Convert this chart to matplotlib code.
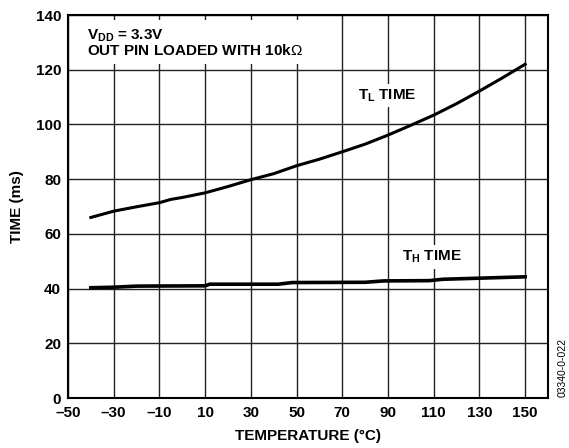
import matplotlib
matplotlib.use("Agg")
import matplotlib.pyplot as plt

plt.rcParams['font.family'] = ['Liberation Sans', 'DejaVu Sans']
plt.rcParams['mathtext.fontset'] = 'custom'
plt.rcParams['mathtext.rm'] = 'Liberation Sans'
plt.rcParams['mathtext.bf'] = 'Liberation Sans:bold'
plt.rcParams['mathtext.it'] = 'Liberation Sans:italic'

# Data
tl_temp = [-40, -30, -20, -10, -5, 0, 10, 20, 30, 40, 50, 60, 70, 80, 90, 100, 110, 120, 130, 140, 150]
tl_time = [66.0, 68.3, 69.9, 71.4, 72.6, 73.3, 75.0, 77.3, 79.8, 82.0, 84.9, 87.3, 90.0, 92.8, 96.1, 99.7, 103.4, 107.6, 112.2, 117.0, 122.0]

th_temp = [-40, -30, -20, 10, 12, 42, 48, 80, 88, 108, 114, 150]
th_time = [40.3, 40.5, 40.9, 41.0, 41.6, 41.6, 42.2, 42.3, 42.8, 42.9, 43.4, 44.3]

x_ticks = [-50, -30, -10, 10, 30, 50, 70, 90, 110, 130, 150]
y_ticks = [0, 20, 40, 60, 80, 100, 120, 140]

FS = 11

fig = plt.figure(figsize=(5.69, 4.48), dpi=100)
ax = fig.add_axes([0.1195, 0.1116, 0.8436, 0.8549])

ax.set_xlim(-50, 160)
ax.set_ylim(0, 140)
ax.set_xticks(x_ticks)
ax.set_yticks(y_ticks)
ax.set_xticklabels([str(t).replace('-', '\u2013') for t in x_ticks], fontweight='bold')
ax.set_yticklabels([str(t) for t in y_ticks], fontweight='bold')
ax.tick_params(axis='both', length=0, labelsize=FS)
ax.tick_params(axis='x', pad=6)
ax.tick_params(axis='y', pad=5)
ax.grid(True, color='#222222', linewidth=1.0)
ax.set_axisbelow(True)
for s in ax.spines.values():
    s.set_linewidth(1.5)
    s.set_color('black')

ax.plot(tl_temp, tl_time, color='black', linewidth=2.2, zorder=3)
ax.plot(th_temp, th_time, color='black', linewidth=2.6, zorder=3)

ax.set_xlabel('TEMPERATURE (°C)', fontsize=FS, fontweight='bold', labelpad=6)
ax.set_ylabel('TIME (ms)', fontsize=FS, fontweight='bold', labelpad=8)

bb = dict(facecolor='white', edgecolor='none', pad=2.5)
ax.text(-41.5, 135.5, r'$\mathbf{V_{DD}}$ = 3.3V' + '\nOUT PIN LOADED WITH 10k' + r'$\Omega$',
        fontsize=FS, fontweight='bold', va='top', ha='left', linespacing=0.95,
        bbox=dict(facecolor='white', edgecolor='none', pad=4), zorder=2)
ax.text(89.5, 110.5, r'$\mathbf{T_{L}}$ TIME', fontsize=FS, fontweight='bold',
        ha='center', va='center', bbox=bb, zorder=2)
ax.text(109, 51.5, r'$\mathbf{T_{H}}$ TIME', fontsize=FS, fontweight='bold',
        ha='center', va='center', bbox=bb, zorder=2)

fig.text(0.998, 0.179, '03340-0-022', rotation=90, fontsize=7.5, ha='right', va='center')

fig.savefig('out.png', dpi=100)
